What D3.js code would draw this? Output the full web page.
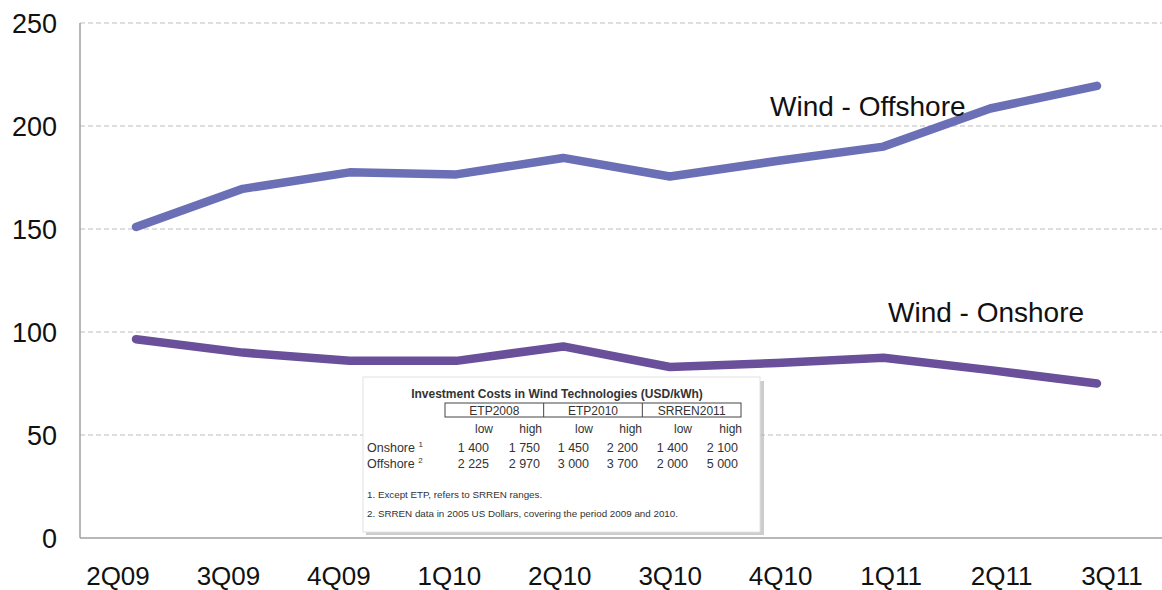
<!DOCTYPE html>
<html>
<head>
<meta charset="utf-8">
<script src="https://cdn.jsdelivr.net/npm/d3@7"></script>
<style>
  body { margin: 0; background: #fff; }
  text { font-family: "Liberation Sans", Arial, sans-serif; }
</style>
</head>
<body>
<svg id="chart"></svg>
<script>
// Layout
let width = 1162,
    height = 590;

// Chart data
let quarters = ["2Q09", "3Q09", "4Q09", "1Q10", "2Q10", "3Q10", "4Q10", "1Q11", "2Q11", "3Q11"];
let offshore = [151, 169.5, 177.5, 176.5, 184.5, 175.5, 183, 190, 208.5, 219.5];
let onshore = [96.5, 90, 86, 86, 93, 83, 85, 87.5, 81.5, 75];
let yTicks = [0, 50, 100, 150, 200, 250];

// Inset table data
let tableTitle = "Investment Costs in Wind Technologies (USD/kWh)";
let tableGroups = ["ETP2008", "ETP2010", "SRREN2011"];
let tableCols = ["low", "high", "low", "high", "low", "high"];
let rowNames = ["Onshore", "Offshore"];
let rowNotes = ["1", "2"];
let onshoreCosts = ["1 400", "1 750", "1 450", "2 200", "1 400", "2 100"];
let offshoreCosts = ["2 225", "2 970", "3 000", "3 700", "2 000", "5 000"];
let footnotes = ["1. Except ETP, refers to SRREN ranges.",
                 "2. SRREN data in 2005 US Dollars, covering the period 2009 and 2010."];

let svg = d3.select("#chart")
    .attr("width", width)
    .attr("height", height);

svg.append("rect").attr("width", width).attr("height", height).attr("fill", "#fff");

// Scales
let y = d3.scaleLinear().domain([0, 250]).range([538, 23]);
let xLine = d3.scalePoint().domain(quarters).range([136, 1097]);
let xLabel = d3.scalePoint().domain(quarters).range([118, 1112]);
let left = 80, right = 1162;

// Gridlines
svg.append("g")
    .selectAll("line")
    .data(yTicks.filter(d => d > 0))
    .join("line")
    .attr("x1", left)
    .attr("x2", right)
    .attr("y1", d => y(d))
    .attr("y2", d => y(d))
    .attr("stroke", "#bdbdbd")
    .attr("stroke-width", 1)
    .attr("stroke-dasharray", "5,3");

// Axis lines
svg.append("line")
    .attr("x1", left).attr("x2", left)
    .attr("y1", y(250)).attr("y2", y(0))
    .attr("stroke", "#a0a0a0").attr("stroke-width", 1.5);
svg.append("line")
    .attr("x1", left).attr("x2", right)
    .attr("y1", y(0)).attr("y2", y(0))
    .attr("stroke", "#a0a0a0").attr("stroke-width", 1.5);

// Y tick labels
svg.append("g")
    .selectAll("text")
    .data(yTicks)
    .join("text")
    .attr("x", 57)
    .attr("y", d => y(d))
    .attr("dy", "0.36em")
    .attr("text-anchor", "end")
    .attr("font-size", 27)
    .attr("fill", "#111")
    .text(d => d);

// X tick labels
svg.append("g")
    .selectAll("text")
    .data(quarters)
    .join("text")
    .attr("x", d => xLabel(d))
    .attr("y", 585)
    .attr("text-anchor", "middle")
    .attr("font-size", 26)
    .attr("fill", "#111")
    .text(d => d);

// Lines
let line = d3.line()
    .x((d, i) => xLine(quarters[i]))
    .y(d => y(d));

svg.append("path")
    .datum(offshore)
    .attr("d", line)
    .attr("fill", "none")
    .attr("stroke", "#6a6fb6")
    .attr("stroke-width", 8.5)
    .attr("stroke-linecap", "round")
    .attr("stroke-linejoin", "round");

svg.append("path")
    .datum(onshore)
    .attr("d", line)
    .attr("fill", "none")
    .attr("stroke", "#6a4f9a")
    .attr("stroke-width", 8.5)
    .attr("stroke-linecap", "round")
    .attr("stroke-linejoin", "round");

// Series labels
svg.append("text")
    .attr("x", 770).attr("y", 116)
    .attr("font-size", 28)
    .attr("fill", "#111")
    .text("Wind - Offshore");
svg.append("text")
    .attr("x", 888).attr("y", 322)
    .attr("font-size", 28)
    .attr("fill", "#111")
    .text("Wind - Onshore");

// Inset table
let tb = svg.append("g");
tb.append("rect")
    .attr("x", 366).attr("y", 381).attr("width", 398).attr("height", 154)
    .attr("fill", "#b8b8b8")
    .attr("opacity", 0.7);
tb.append("rect")
    .attr("x", 363).attr("y", 377).attr("width", 397).attr("height", 155)
    .attr("fill", "#fff")
    .attr("stroke", "#e2e2e2");

tb.append("text")
    .attr("x", 557).attr("y", 398)
    .attr("text-anchor", "middle")
    .attr("font-size", 12)
    .attr("font-weight", "bold")
    .attr("fill", "#333")
    .text(tableTitle);

let groupX = d3.scaleBand().domain(tableGroups).range([445, 741]);
tb.append("rect")
    .attr("x", 445).attr("y", 403).attr("width", 296).attr("height", 14)
    .attr("fill", "none").attr("stroke", "#444");
tb.selectAll(".gsep")
    .data(tableGroups.slice(1))
    .join("line")
    .attr("x1", d => groupX(d)).attr("x2", d => groupX(d))
    .attr("y1", 403).attr("y2", 417)
    .attr("stroke", "#444");
tb.selectAll(".gtext")
    .data(tableGroups)
    .join("text")
    .attr("x", d => groupX(d) + groupX.bandwidth() / 2)
    .attr("y", 415)
    .attr("text-anchor", "middle")
    .attr("font-size", 12)
    .attr("fill", "#333")
    .text(d => d);

let colX = [493, 542, 593, 642, 692, 742];
tb.selectAll(".ctext")
    .data(tableCols)
    .join("text")
    .attr("x", (d, i) => colX[i])
    .attr("y", 433)
    .attr("text-anchor", "end")
    .attr("font-size", 12)
    .attr("fill", "#333")
    .text(d => d);

let rowY = [452, 468];
let rowValues = [onshoreCosts, offshoreCosts];
let valX = [489, 540, 589, 638, 688, 738];
rowNames.forEach((name, r) => {
    let t = tb.append("text")
        .attr("x", 367).attr("y", rowY[r])
        .attr("font-size", 12.5)
        .attr("fill", "#333")
        .text(name + " ");
    t.append("tspan")
        .attr("dy", -5)
        .attr("font-size", 8)
        .text(rowNotes[r]);
    tb.selectAll(".v" + r)
        .data(rowValues[r])
        .join("text")
        .attr("x", (d, i) => valX[i])
        .attr("y", rowY[r])
        .attr("text-anchor", "end")
        .attr("font-size", 12.5)
        .attr("fill", "#333")
        .text(d => d);
});

tb.selectAll(".fn")
    .data(footnotes)
    .join("text")
    .attr("x", 367)
    .attr("y", (d, i) => 498 + i * 19)
    .attr("font-size", 9.8)
    .attr("fill", "#333")
    .text(d => d);
</script>
</body>
</html>
